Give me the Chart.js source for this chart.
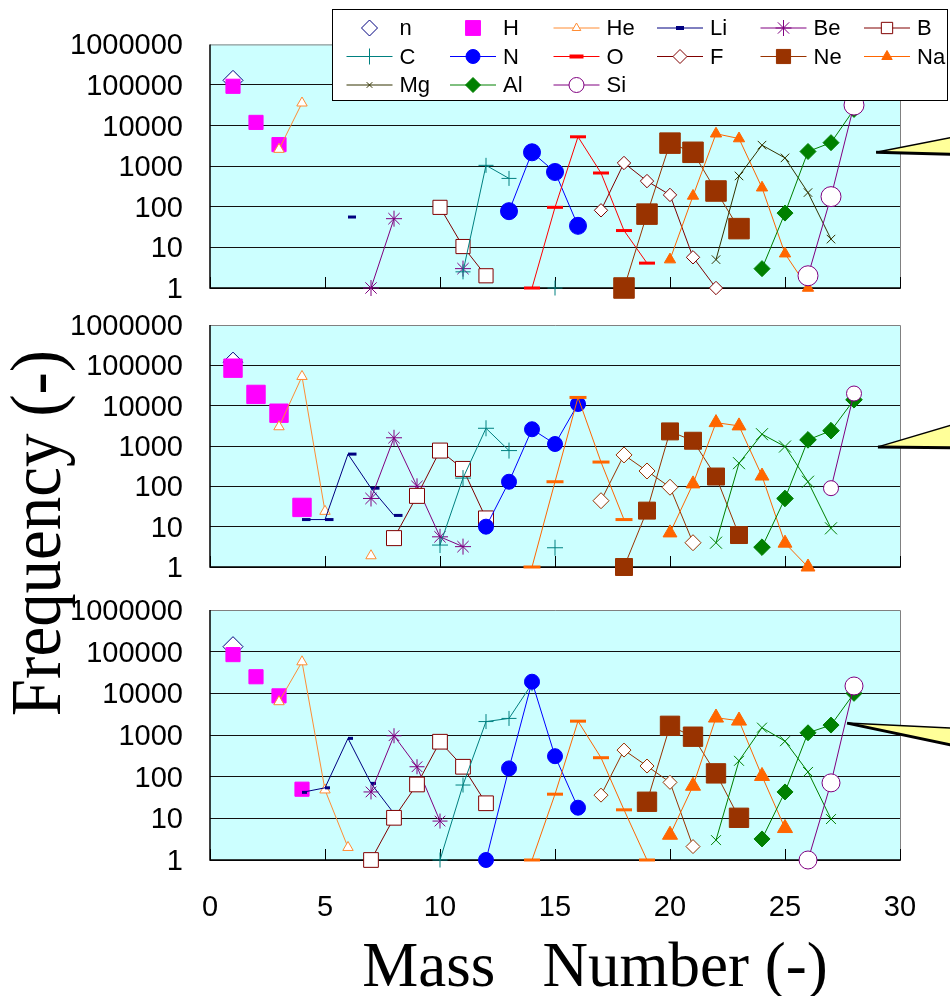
<!DOCTYPE html>
<html>
<head>
<meta charset="utf-8">
<script src="https://cdn.jsdelivr.net/npm/chart.js@4.4.1/dist/chart.umd.min.js"></script>
<style>
  body { margin: 0; background: #fff; }
  #wrap { position: relative; width: 950px; height: 996px; }
  #wrap canvas { position: absolute; left: 0; top: 0; }
</style>
</head>
<body>
<div id="wrap">
  <canvas id="panelTop" width="950" height="996"></canvas>
  <canvas id="panelMid" width="950" height="996"></canvas>
  <canvas id="panelBot" width="950" height="996"></canvas>
</div>
<script>
// === Données ===
const elements = ['n', 'H', 'He', 'Li', 'Be', 'B', 'C', 'N', 'O', 'F', 'Ne', 'Na', 'Mg', 'Al', 'Si'];
const massTicks = [0, 5, 10, 15, 20, 25, 30];
const freqTicks = [1, 10, 100, 1000, 10000, 100000, 1000000];

// each row: [first mass number, frequency at that mass, next mass, ...]
const freqTop = [
    [1, 130000],
    [1, 93000, 12000, 3400],
    [3, 2600, 36000],
    [6, 56],
    [7, 1, 51, null, null, 3],
    [10, 97, 10.5, 2],
    [11, 2.5, 1050, 500, null, 1],
    [13, 78, 2200, 720, 34],
    [14, 1, 97, 5300, 680, 26, 4.1],
    [17, 82, 1200, 430, 196, 5.7, 1],
    [18, 1, 66, 3700, 2200, 245, 29],
    [20, 5, 185, 6300, 4800, 295, 7, 1],
    [22, 5, 575, 3300, 1600, 224, 16],
    [24, 3, 70, 2300, 3800, 25000],
    [26, 2, 178, 32000]
];
const freqMid = [
    [1, 120000],
    [1, 85000, 19000, 6500, 30],
    [3, 3000, 53000, 24, null, 1.9],
    [4, 15, 15, 630, 90, 19],
    [7, 50, 1600, 100, 5.6, 3.2],
    [8, 5.2, 58, 770, 270, 16],
    [10, 3.5, 160, 2750, 770, null, 3],
    [12, 10, 130, 2600, 1120, 11000],
    [14, 1, 130, 16000, 400, 15],
    [17, 44, 600, 240, 95, 4],
    [18, 1, 25, 2300, 1350, 175, 6.2],
    [20, 7, 115, 3800, 3150, 180, 3.9, 1],
    [22, 4, 375, 1960, 970, 130, 9.1],
    [24, 3.1, 50, 1420, 2400, 14000],
    [27, 90, 20000]
];
const freqBot = [
    [1, 132000],
    [1, 85000, 25000, 8700, 50],
    [3, 6300, 57000, 48, 2],
    [4, 42, 54, 830, 69, 13],
    [7, 43, 960, 173, 8.6],
    [7, 1, 10.3, 65, 690, 173, 23],
    [10, 1, 63, 2100, 2500, 17000],
    [12, 1, 158, 19000, 310, 18],
    [14, 1, 38, 2150, 285, 16, 1],
    [17, 36, 435, 180, 73, 2.1],
    [19, 25, 1660, 910, 120, 10.3],
    [20, 4, 60, 2600, 2200, 103, 5.8],
    [22, 3, 240, 1500, 710, 130, 9.6],
    [24, 3.2, 43, 1130, 1730, 10000],
    [26, 1, 71, 15000]
];

// === Styles ===
const pointStyles = ['rectRot', 'rect', 'triangle', 'dash', 'star', 'rect', 'cross', 'circle', 'line', 'rectRot', 'rect', 'triangle', 'crossRot', 'rectRot', 'circle'];
const hollow = ['n', 'He', 'B', 'F', 'Si'];
const noLine = ['n', 'H'];
const colorsTop = ['#000080', '#ff00ff', '#ff8c33', '#000080', '#800080', '#800000', '#008080', '#0000ff', '#ff0000', '#800000', '#993300', '#ff6600', '#333300', '#008000', '#800080'];
const colorsLow = ['#000080', '#ff00ff', '#ff8c33', '#000080', '#800080', '#800000', '#008080', '#0000ff', '#ff6600', '#993300', '#993300', '#ff6600', '#008000', '#008000', '#800080'];
const radiusTop = [10, 10, 6, 8, 8, 10, 7.5, 8.5, 8, 6.7, 14.5, 6.5, 6, 8, 10];
const radiusMid = [10, 13, 6, 8.5, 8, 10.6, 8, 7.5, 8.5, 8, 12, 8, 8.5, 8.3, 7.5];
const radiusBot = [10, 10, 6, 5, 7.5, 10.4, 7.5, 7.5, 8, 7, 13.7, 8.7, 7, 8, 9];
const legendRadius = [8, 10.5, 5, 4, 8, 8, 8, 7, 7, 7, 10, 6, 4, 7.5, 7.5];

const sansFont = '"Liberation Sans", Arial, sans-serif';
const serifFont = '"Liberation Serif", "Times New Roman", serif';

function toPoints(row) {
    const start = row[0];
    return row.slice(1).map((v, i) => ({ x: start + i, y: v }));
}

function buildDatasets(rows, colors, radii) {
    return elements.map((name, i) => {
        const fill = hollow.includes(name) ? '#ffffff' : colors[i];
        const thick = pointStyles[i] === 'dash' || pointStyles[i] === 'line';
        return {
            label: name,
            data: toPoints(rows[i]),
            showLine: !noLine.includes(name),
            borderColor: colors[i],
            backgroundColor: fill,
            borderWidth: 1,
            pointStyle: pointStyles[i],
            pointRadius: radii[i],
            pointHoverRadius: radii[i],
            pointBorderColor: colors[i],
            pointBackgroundColor: fill,
            pointBorderWidth: thick ? 3 : 1,
            order: -i,
            clip: false
        };
    });
}

function drawMarker(ctx, style, r, x, y, stroke, fill, bw) {
    ctx.save();
    ctx.strokeStyle = stroke;
    ctx.fillStyle = fill;
    ctx.lineWidth = bw;
    Chart.helpers.drawPoint(ctx, { pointStyle: style, radius: r, borderWidth: bw, rotation: 0 }, x, y);
    ctx.restore();
}

// === Plugins ===
const panelFrame = {
    id: 'panelFrame',
    beforeDraw(chart) {
        const a = chart.chartArea, ctx = chart.ctx;
        ctx.save();
        ctx.fillStyle = '#ccffff';
        ctx.fillRect(a.left, a.top, a.right - a.left, a.bottom - a.top);
        ctx.restore();
    },
    beforeDatasetsDraw(chart) {
        const a = chart.chartArea, ctx = chart.ctx, xs = chart.scales.x;
        ctx.save();
        ctx.lineWidth = 1;
        ctx.strokeStyle = '#808080';
        ctx.beginPath();
        ctx.moveTo(a.left, a.top + 0.5);
        ctx.lineTo(a.right + 0.5, a.top + 0.5);
        ctx.lineTo(a.right + 0.5, a.bottom);
        ctx.stroke();
        ctx.strokeStyle = '#000';
        ctx.lineWidth = 1.5;
        ctx.beginPath();
        ctx.moveTo(a.left, a.top);
        ctx.lineTo(a.left, a.bottom);
        ctx.lineTo(a.right + 1, a.bottom);
        ctx.stroke();
        ctx.lineWidth = 1;
        ctx.beginPath();
        massTicks.forEach(m => {
            const px = Math.round(xs.getPixelForValue(m)) + 0.5;
            ctx.moveTo(px, a.bottom);
            ctx.lineTo(px, a.bottom - 11);
        });
        ctx.stroke();
        ctx.restore();
    }
};

// speech-bubble pointers coming in from the right edge
function makeCallout(mass, freq, up, down) {
    return {
        id: 'callout',
        afterDraw(chart) {
            const ctx = chart.ctx;
            const x0 = chart.scales.x.getPixelForValue(mass);
            const y0 = chart.scales.y.getPixelForValue(freq);
            const xe = chart.width + 2;
            ctx.save();
            ctx.beginPath();
            ctx.moveTo(x0, y0);
            ctx.lineTo(xe, y0 + up);
            ctx.lineTo(xe, y0 + down);
            ctx.closePath();
            ctx.fillStyle = '#ffff99';
            ctx.fill();
            ctx.strokeStyle = '#000';
            ctx.lineWidth = 1.5;
            ctx.beginPath();
            ctx.moveTo(x0, y0);
            ctx.lineTo(xe, y0 + up);
            ctx.stroke();
            ctx.lineWidth = 3;
            ctx.beginPath();
            ctx.moveTo(x0, y0);
            ctx.lineTo(xe, y0 + down);
            ctx.stroke();
            ctx.restore();
        }
    };
}

const legendBox = {
    id: 'legendBox',
    afterDraw(chart) {
        const ctx = chart.ctx;
        ctx.save();
        ctx.fillStyle = '#fff';
        ctx.fillRect(332, 9, 615, 91);
        ctx.strokeStyle = '#000';
        ctx.lineWidth = 1;
        ctx.strokeRect(332.5, 9.5, 615, 91);
        ctx.font = '22px ' + sansFont;
        ctx.textBaseline = 'middle';
        ctx.textAlign = 'left';
        elements.forEach((name, i) => {
            const cx = 369.5 + 103.5 * (i % 6);
            const cy = 28 + 28.5 * Math.floor(i / 6);
            const col = colorsTop[i];
            if (!noLine.includes(name)) {
                ctx.strokeStyle = col;
                ctx.lineWidth = 1;
                ctx.beginPath();
                ctx.moveTo(cx - 23, cy);
                ctx.lineTo(cx + 23, cy);
                ctx.stroke();
            }
            const fill = hollow.includes(name) ? '#ffffff' : col;
            const style = pointStyles[i] === 'dash' ? 'line' : pointStyles[i];
            const thick = pointStyles[i] === 'dash' || pointStyles[i] === 'line';
            drawMarker(ctx, style, legendRadius[i], cx, cy, col, fill, thick ? 4 : 1);
            ctx.fillStyle = '#000';
            ctx.fillText(name, cx + 30, cy + 1);
        });
        ctx.restore();
    }
};

const axisTitles = {
    id: 'axisTitles',
    afterDraw(chart) {
        const ctx = chart.ctx;
        ctx.save();
        ctx.fillStyle = '#000';
        ctx.font = '63px ' + serifFont;
        ctx.textAlign = 'center';
        ctx.textBaseline = 'alphabetic';
        ctx.fillText('Mass   Number (-)', 595, 986);
        ctx.translate(60, 533);
        ctx.rotate(-Math.PI / 2);
        ctx.scale(0.93, 1);
        ctx.font = '72px ' + serifFont;
        ctx.fillText('Frequency (-)', 0, 0);
        ctx.restore();
    }
};

// === Graphiques ===
function makePanel(id, rows, colors, radii, padTop, padBottom, isBottom, callout, extra) {
    const ctx = document.getElementById(id).getContext('2d');
    return new Chart(ctx, {
        type: 'scatter',
        data: { datasets: buildDatasets(rows, colors, radii) },
        options: {
            responsive: false,
            animation: false,
            devicePixelRatio: 1,
            layout: { padding: { top: padTop, right: 50, bottom: padBottom, left: 0 } },
            plugins: {
                legend: { display: false },
                tooltip: { enabled: false }
            },
            scales: {
                x: {
                    type: 'linear',
                    min: 0,
                    max: 30,
                    display: isBottom,
                    afterBuildTicks: s => { s.ticks = massTicks.map(v => ({ value: v })); },
                    afterFit: s => { if (isBottom) s.height = 136; },
                    grid: { display: false, drawTicks: false },
                    border: { display: false },
                    ticks: {
                        color: '#000',
                        padding: 31,
                        maxRotation: 0,
                        font: { family: sansFont, size: 29 }
                    }
                },
                y: {
                    type: 'logarithmic',
                    min: 1,
                    max: 1000000,
                    afterBuildTicks: s => { s.ticks = freqTicks.map(v => ({ value: v })); },
                    afterFit: s => { s.width = 210; },
                    grid: {
                        drawTicks: false,
                        lineWidth: 1,
                        color: c => (c.tick && c.tick.value === 1000000) ? 'rgba(0,0,0,0)' : '#111'
                    },
                    border: { display: false },
                    ticks: {
                        color: '#000',
                        padding: 27,
                        labelOffset: 2,
                        autoSkip: false,
                        font: { family: sansFont, size: 29 },
                        callback: v => String(v)
                    }
                }
            }
        },
        plugins: [panelFrame, makeCallout(callout[0], callout[1], callout[2], callout[3])].concat(extra)
    });
}

makePanel('panelTop', freqTop, colorsTop, radiusTop, 40, 708, false, [28.96, 2200, -15, 2], [legendBox]);
makePanel('panelMid', freqMid, colorsLow, radiusMid, 325, 429, false, [29.04, 950, -22, 1], []);
makePanel('panelBot', freqBot, colorsLow, radiusBot, 610, 0, true, [27.7, 1930, 5, 22], [axisTitles]);
</script>
</body>
</html>
